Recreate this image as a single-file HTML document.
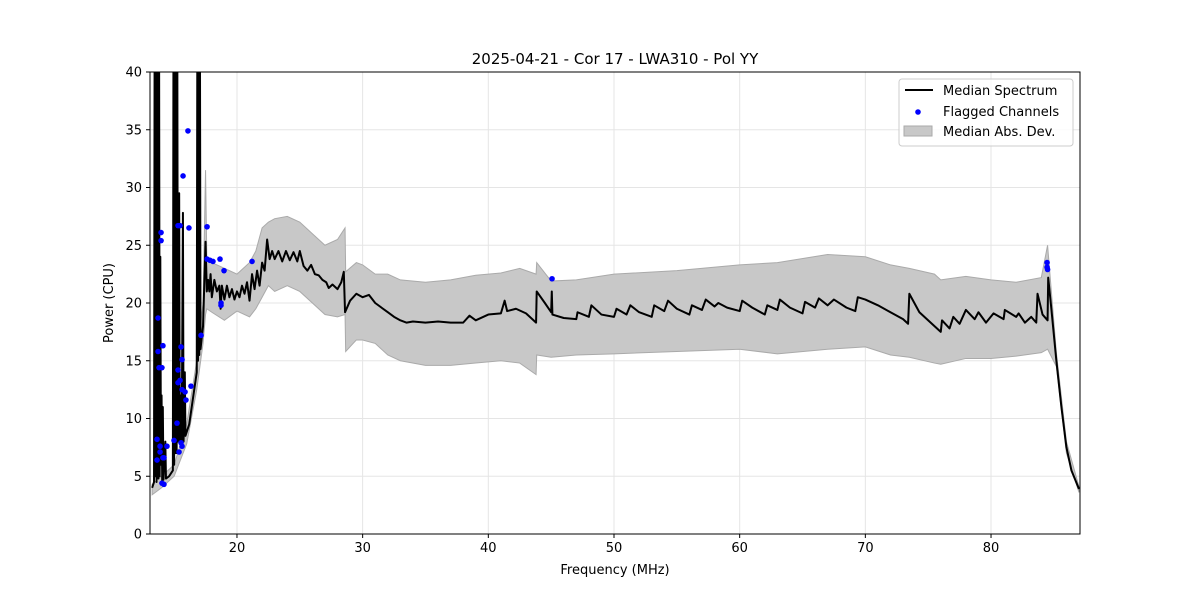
<!DOCTYPE html>
<html><head><meta charset="utf-8"><style>
body{margin:0;background:#fff;}
svg{display:block;font-family:"DejaVu Sans","Liberation Sans",sans-serif;}
</style></head><body>
<svg id="chart" width="1200" height="600">
<rect x="0" y="0" width="1200" height="600" fill="#fff"/>
<g id="grid"></g>
<defs><clipPath id="clip"><rect x="150" y="72" width="930" height="462"/></clipPath></defs>
<g id="plot" clip-path="url(#clip)"></g>
<g id="axes"></g>
<text x="615" y="64" text-anchor="middle" font-size="15">2025-04-21 - Cor 17 - LWA310 - Pol YY</text>
<text x="615" y="574" text-anchor="middle" font-size="13">Frequency (MHz)</text>
<text x="113" y="303" text-anchor="middle" font-size="13" transform="rotate(-90 113 303)">Power (CPU)</text>
<g>
<rect x="899" y="79" width="174" height="67" rx="3" fill="#fff" fill-opacity="0.8" stroke="#ccc"/>
<g><line x1="905" y1="90" x2="933" y2="90" stroke="#000" stroke-width="2"/><text x="943" y="95" font-size="13">Median Spectrum</text></g>
<g><circle cx="918" cy="112" r="2.8" fill="#0000ff"/><text x="943" y="116" font-size="13">Flagged Channels</text></g>
<g><rect x="904" y="126" width="28" height="10" fill="#c8c8c8" stroke="#aaa"/><text x="943" y="136" font-size="13">Median Abs. Dev.</text></g>
</g>
</svg>
<script>
const xTicks=[20,30,40,50,60,70,80];
const yTicks=[0,5,10,15,20,25,30,35,40];
const medFreq=[13.25,13.4,13.45,13.5,13.55,13.6,13.65,13.7,13.72,13.75,13.8,13.85,13.9,13.95,14.0,14.05,14.1,14.15,14.3,14.35,14.6,14.9,14.95,15.0,15.05,15.1,15.15,15.2,15.25,15.3,15.4,15.45,15.55,15.6,15.7,15.75,15.85,15.9,16.2,16.4,16.6,16.8,16.85,16.9,16.95,17.0,17.05,17.1,17.3,17.5,17.6,17.7,17.8,17.9,18.0,18.2,18.4,18.6,18.7,18.8,19.0,19.2,19.4,19.6,19.8,20.0,20.2,20.4,20.6,20.8,21.0,21.2,21.4,21.6,21.8,22.0,22.2,22.4,22.6,22.8,23.0,23.3,23.6,23.9,24.2,24.5,24.8,25.0,25.3,25.6,25.9,26.2,26.5,26.8,27.1,27.3,27.6,28.0,28.3,28.5,28.6,29.0,29.5,30.0,30.5,31.0,31.5,32.0,32.5,33.0,33.5,34.0,35,36,37,38,38.5,39,40,41,41.3,41.5,42.2,43,43.8,43.85,44.5,45,45.05,45.1,46,47,47.1,48,48.2,49,50,50.2,51,51.3,52,53,53.2,54,54.3,55,56,56.2,57,57.3,58,58.3,59,60,60.2,61,62,62.2,63,63.2,64,65,65.2,66,66.3,67,67.5,68.5,69.2,69.4,70,71,72,73,73.4,73.5,74.3,75.5,76,76.1,76.7,77,77.5,78,78.7,79,79.6,80.2,81,81.1,82,82.2,82.7,83.2,83.6,83.7,84.1,84.5,84.55,84.8,85.2,85.6,86,86.4,87];
const medPower=[4.0,4.5,45,5,45,4.5,45,5,25,4.8,45,5,24,6,12,4.6,11,4.7,8,4.8,5.0,5.5,45,6,45,7,45,7,45,8,29.5,8,12,7.5,27.8,8,14,8.5,9.5,11,12.5,14,45,15,45,15.5,45,16,18,25.3,21,22,21,22.5,20.5,22,21,21.5,19.5,21.5,20.3,21.5,20.5,21.2,20.3,21,20.5,21.5,20.8,21.8,20.2,22.5,21.2,22.8,21.5,23.5,22.8,25.5,23.8,24.5,23.8,24.5,23.6,24.5,23.7,24.4,23.6,24.5,23.2,22.8,23.3,22.5,22.4,22.0,21.8,21.3,21.6,21.2,21.8,22.7,19.2,20.2,20.8,20.5,20.7,20.0,19.6,19.2,18.8,18.5,18.3,18.4,18.3,18.4,18.3,18.3,18.9,18.5,19.0,19.1,20.2,19.3,19.5,19.1,18.3,21.0,20.0,19.2,21.0,19.0,18.7,18.6,19.2,18.8,19.8,19.0,18.8,19.5,19.0,19.8,19.2,18.8,19.8,19.3,20.2,19.5,19.0,19.8,19.4,20.3,19.7,20.0,19.6,19.3,20.2,19.6,19.0,19.8,19.4,20.3,19.6,19.1,20.1,19.6,20.4,19.8,20.3,19.6,19.3,20.5,20.3,19.8,19.2,18.6,18.2,20.8,19.2,18.0,17.5,18.5,17.8,18.8,18.2,19.4,18.6,19.2,18.3,19.1,18.6,19.4,18.8,19.1,18.3,18.8,18.3,20.8,19.0,18.5,22.2,19.5,15,11,7.5,5.5,3.9];
const bandFreq=[13.25,14,15,16,16.8,17.3,17.5,17.6,18,19,20,21,21.5,22,22.5,23,24,25,26,27,28,28.6,28.65,29.5,30,31,32,33,35,37,39,41,42.5,43.8,43.85,45,47,50,55,60,63,67,70,72,73.5,75.5,76,78,80,82,84,84.5,85.2,86,87];
const bandLow=[3.4,4.0,5,7.8,12.5,16.5,19,19.5,19.2,18.5,19.3,18.8,19.5,20.5,21.5,21,21.5,21,20,19,18.8,19,15.8,16.8,16.8,16.5,15.5,15,14.6,14.6,14.8,15,14.8,13.8,15.5,15.3,15.5,15.6,15.8,16.0,15.6,16,16.2,15.5,15.3,14.8,14.7,15.2,15.2,15.4,15.7,16,14.5,7,3.6];
const bandHigh=[4.3,5.0,6,9.5,15,20,31.5,24,23.5,23,22.5,23.5,24.5,26.5,27,27.3,27.5,27,26,25,25.5,26.5,22.7,23.5,23.3,22.5,22.5,22,21.8,22,22.4,22.6,23,22.5,23.5,21.9,22,22.5,22.8,23.3,23.5,24.2,24.0,23.3,23,22.5,22,22.3,22,21.8,22.2,25,15.7,8,4.1];
const flagFreq=[13.72,13.96,13.96,14.11,13.72,13.80,14.03,13.64,13.88,13.88,13.64,14.11,14.43,14.03,14.19,14.19,15.31,15.47,15.71,16.10,16.18,15.55,15.31,15.63,15.47,15.31,15.87,15.63,15.94,16.34,15.23,14.99,15.39,15.55,15.63,17.14,17.62,17.62,17.85,18.09,18.65,18.97,18.73,18.73,21.2,45.07,84.46,84.46,84.5];
const flagPower=[18.7,26.1,25.4,16.3,15.8,14.4,14.4,8.2,7.6,7.1,6.4,6.6,7.6,4.4,4.3,6.6,26.7,26.7,31.0,34.9,26.5,16.2,14.2,15.1,13.3,13.1,12.3,12.5,11.6,12.8,9.6,8.1,7.1,7.9,7.6,17.2,26.6,23.8,23.7,23.6,23.8,22.8,20.0,19.8,23.6,22.1,23.5,23.1,22.9];

const X0=150,X1=1080,Y0=534,Y1=72,FMIN=13.08,FMAX=87.08,PMAX=40;
const xs=f=>X0+(f-FMIN)/(FMAX-FMIN)*(X1-X0);
const ys=v=>Y0-v/PMAX*(Y0-Y1);
const NS="http://www.w3.org/2000/svg";
function mk(tag,attrs,parent){const e=document.createElementNS(NS,tag);for(const k in attrs)e.setAttribute(k,attrs[k]);parent.appendChild(e);return e;}
const grid=document.getElementById('grid'),plot=document.getElementById('plot'),axes=document.getElementById('axes');
xTicks.forEach(t=>{
  const gl=mk('line',{x1:xs(t),x2:xs(t),y1:Y1,y2:Y0,stroke:'#e5e5e5','stroke-width':1},grid);
  
  
  const tk=mk('line',{x1:xs(t),x2:xs(t),y1:Y0,y2:Y0+4,stroke:'#000'},axes);
  
  
  const tl=mk('text',{x:xs(t),y:Y0+18,'text-anchor':'middle','font-size':13},axes);
  tl.textContent=t;
  
  
});
yTicks.forEach(t=>{
  const gl=mk('line',{x1:X0,x2:X1,y1:ys(t),y2:ys(t),stroke:'#e5e5e5','stroke-width':1},grid);
  
  
  const tk=mk('line',{x1:X0-4,x2:X0,y1:ys(t),y2:ys(t),stroke:'#000'},axes);
  
  
  const tl=mk('text',{x:X0-8,y:ys(t)+4.5,'text-anchor':'end','font-size':13},axes);
  tl.textContent=t;
  
  
});
let pts=bandFreq.map((f,i)=>xs(f)+','+ys(bandHigh[i]));
for(let i=bandFreq.length-1;i>=0;i--)pts.push(xs(bandFreq[i])+','+ys(bandLow[i]));
const band=mk('polygon',{points:pts.join(' '),fill:'#c8c8c8',stroke:'#aaa','stroke-width':1},plot);


const line=mk('polyline',{points:medFreq.map((f,i)=>xs(f)+','+ys(medPower[i])).join(' '),fill:'none',stroke:'#000','stroke-width':2,'stroke-linejoin':'round'},plot);


flagFreq.forEach((f,i)=>{
  const c=mk('circle',{cx:xs(f),cy:ys(flagPower[i]),r:2.8,fill:'#0000ff'},plot);
  
  
});
const fr=mk('rect',{x:X0,y:Y1,width:X1-X0,height:Y0-Y1,fill:'none',stroke:'#000','stroke-width':1},axes);


</script>
</body></html>
